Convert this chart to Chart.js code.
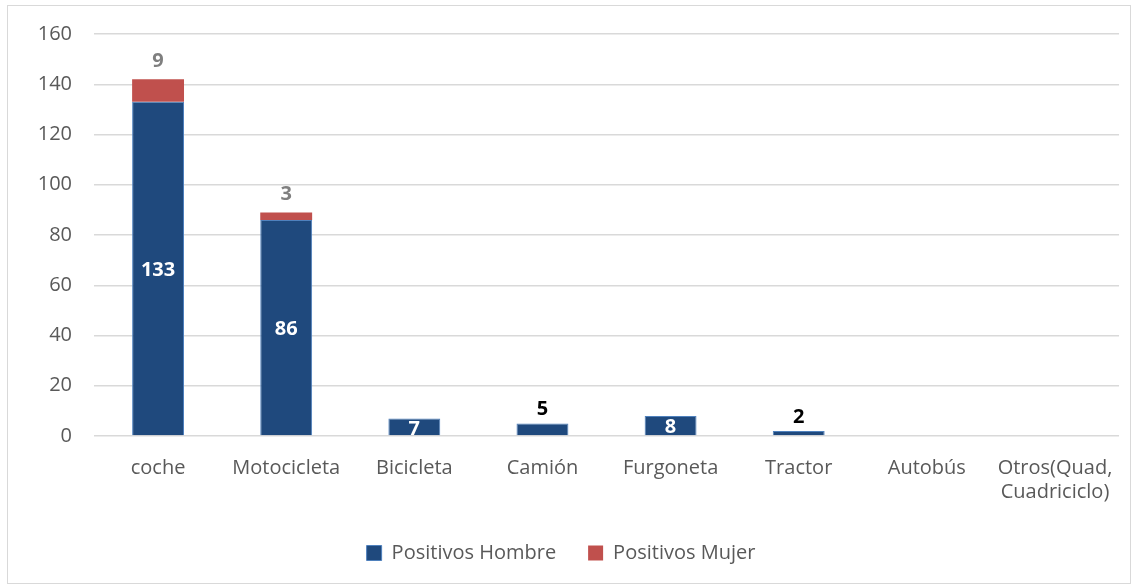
<!DOCTYPE html>
<html><head><meta charset="utf-8">
<script src="https://cdn.jsdelivr.net/npm/chart.js@4.4.1/dist/chart.umd.min.js"></script>
<style>html,body{margin:0;padding:0;background:#fff;}#wrap{width:1133px;height:586px;position:relative;}</style>
</head><body><div id="wrap"><canvas id="c" width="1133" height="586"></canvas></div>
<script>
const categories = ["coche","Motocicleta","Bicicleta","Camión","Furgoneta","Tractor","Autobús",["Otros(Quad,","Cuadriciclo)"]];
const hombre = [133, 86, 7, 5, 8, 2, 0, 0];
const mujer = [9, 3, 0, 0, 0, 0, 0, 0];
const yTicks = [0,20,40,60,80,100,120,140,160];

const FONT = "'Open Sans', sans-serif";

const labelPlugin = {
  id: 'vals',
  afterDatasetsDraw(chart) {
    const ctx = chart.ctx;
    ctx.save();
    ctx.textAlign = 'center';
    ctx.textBaseline = 'middle';
    ctx.font = "bold 20px " + FONT;
    const m0 = chart.getDatasetMeta(0), m1 = chart.getDatasetMeta(1);
    hombre.forEach((v, i) => {
      if (!v) return;
      const b = m0.data[i];
      if (v >= 7) {
        ctx.fillStyle = '#ffffff';
        ctx.fillText(String(v), b.x, (b.y + b.base) / 2 + 2);
      } else {
        ctx.fillStyle = '#000000';
        ctx.fillText(String(v), b.x, b.y - 14);
      }
    });
    mujer.forEach((v, i) => {
      if (!v) return;
      const b = m1.data[i];
      ctx.fillStyle = '#7f7f7f';
      ctx.fillText(String(v), b.x, b.y - 18);
    });
    ctx.restore();
  }
};
const frame = {
  id: 'frame',
  beforeDraw(chart) {
    const ctx = chart.ctx;
    ctx.save();
    ctx.fillStyle = '#fff';
    ctx.fillRect(0,0,chart.width,chart.height);
    ctx.strokeStyle = '#d9d9d9';
    ctx.lineWidth = 1;
    ctx.strokeRect(7.5, 5.5, 1123, 578);
    ctx.restore();
  }
};

new Chart(document.getElementById('c'), {
  type: 'bar',
  data: {
    labels: categories,
    datasets: [
      { label: 'Positivos Hombre', data: hombre, backgroundColor: '#1f497d', borderColor: '#4f81bd', borderWidth: 1 },
      { label: 'Positivos Mujer', data: mujer, backgroundColor: '#c0504d', borderColor: '#c0504d', borderWidth: 0 }
    ]
  },
  options: {
    responsive: false,
    animation: false,
    devicePixelRatio: 1,
    layout: { padding: { top: 25, right: 11, left: 0, bottom: 13 } },
    datasets: { bar: { categoryPercentage: 1, barPercentage: 0.405 } },
    plugins: {
      legend: {
        position: 'bottom',
        labels: { font: { family: FONT, size: 20 }, color: '#595959', boxWidth: 15, boxHeight: 15, padding: 32 }
      },
      tooltip: { enabled: false }
    },
    scales: {
      x: {
        stacked: true,
        grid: { display: false, drawTicks: false },
        border: { display: false },
        ticks: { font: { family: FONT, size: 20 }, color: '#595959', padding: 20, maxRotation: 0, autoSkip: false },
        afterFit(s) { s.height = 75; }
      },
      y: {
        stacked: true,
        min: 0, max: 160,
        afterBuildTicks(s) { s.ticks = yTicks.map(v => ({ value: v })); },
        grid: { color: '#d9d9d9', drawTicks: false, lineWidth: 1.5 },
        border: { display: false },
        ticks: { font: { family: FONT, size: 20 }, color: '#595959', padding: 22 },
        afterFit(s) { s.width = 94; }
      }
    }
  },
  plugins: [frame, labelPlugin]
});
</script></body></html>
